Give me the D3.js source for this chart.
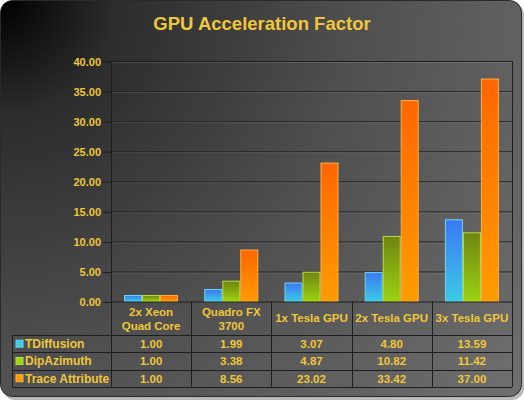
<!DOCTYPE html>
<html>
<head>
<meta charset="utf-8">
<script src="https://cdn.jsdelivr.net/npm/d3@7"></script>
<style>
	body { margin: 0; background: #ffffff; }
	svg text { font-family: "Liberation Sans", Arial, sans-serif; font-weight: bold; }
</style>
</head>
<body>
<svg id="chart" width="524" height="400"></svg>
<script>
// chart values
var categories = [["2x Xeon", "Quad Core"], ["Quadro FX", "3700"], ["1x Tesla GPU"], ["2x Tesla GPU"], ["3x Tesla GPU"]];
var seriesNames = ["TDiffusion", "DipAzimuth", "Trace Attribute"];
var tDiffusion = [1.00, 1.99, 3.07, 4.80, 13.59];
var dipAzimuth = [1.00, 3.38, 4.87, 10.82, 11.42];
var traceAttribute = [1.00, 8.56, 23.02, 33.42, 37.00];
var yTicks = [0, 5, 10, 15, 20, 25, 30, 35, 40];

var series = [tDiffusion, dipAzimuth, traceAttribute];
var gradients = [
	["#3a78f2", "#3ccbe6", "#6ad8f0"],
	["#6f8412", "#9bd411", "#b8e040"],
	["#ff6600", "#ff9c00", "#ffb040"]
];
var yellow = "#f0c63a";

var svg = d3.select("#chart");
var defs = svg.append("defs");

var bg = defs.append("radialGradient")
	.attr("id", "bg")
	.attr("gradientUnits", "userSpaceOnUse")
	.attr("cx", 0).attr("cy", 0).attr("r", 640);
bg.append("stop").attr("offset", 0).attr("stop-color", "#000");
bg.append("stop").attr("offset", 0.18).attr("stop-color", "#2c2c2c");
bg.append("stop").attr("offset", 0.55).attr("stop-color", "#4f4f4f");
bg.append("stop").attr("offset", 1).attr("stop-color", "#6e6e6e");

gradients.forEach(function(g, i) {
	var lg = defs.append("linearGradient")
		.attr("id", "bar" + i)
		.attr("x1", 0).attr("y1", 0).attr("x2", 0).attr("y2", 1);
	lg.append("stop").attr("offset", 0).attr("stop-color", g[0]);
	lg.append("stop").attr("offset", 1).attr("stop-color", g[1]);
});

// frame
svg.append("rect")
	.attr("x", 3).attr("y", 3).attr("width", 521).attr("height", 397)
	.attr("rx", 12).attr("fill", "#b8b8b8");
svg.append("rect")
	.attr("x", 0.5).attr("y", 0.5).attr("width", 521).attr("height", 396)
	.attr("rx", 12).attr("fill", "url(#bg)")
	.attr("stroke", "#2a2a2a");

svg.append("text")
	.attr("x", 262).attr("y", 30)
	.attr("text-anchor", "middle")
	.attr("font-size", 18.5)
	.attr("fill", yellow)
	.text("GPU Acceleration Factor");

var margin = {left: 111, right: 512, top: 61, bottom: 301.5};
var tableLeft = 12, rowH = 17.3, headerBottom = 335;
var tableBottom = headerBottom + rowH * 3;

var x = d3.scaleBand()
	.domain(d3.range(categories.length))
	.range([margin.left, margin.right]);

var y = d3.scaleLinear()
	.domain([0, 40])
	.range([margin.bottom, margin.top]);

var barW = 18;
var x1 = d3.scaleBand()
	.domain(d3.range(series.length))
	.range([0, barW * series.length]);

// gridlines
var grid = svg.append("g");
grid.selectAll("line.hi")
	.data(yTicks.slice(1))
	.enter().append("line")
	.attr("x1", margin.left).attr("x2", margin.right)
	.attr("y1", function(d) { return y(d) + 1.5; })
	.attr("y2", function(d) { return y(d) + 1.5; })
	.attr("stroke", "rgba(255,255,255,0.12)");
grid.selectAll("line.lo")
	.data(yTicks.slice(1))
	.enter().append("line")
	.attr("x1", margin.left).attr("x2", margin.right)
	.attr("y1", function(d) { return y(d) + 0.5; })
	.attr("y2", function(d) { return y(d) + 0.5; })
	.attr("stroke", "#262626");

// axis
var axis = svg.append("g")
	.attr("transform", "translate(" + margin.left + ",0.5)")
	.call(d3.axisLeft(y).tickValues(yTicks).tickFormat(d3.format(".2f")).tickSize(8).tickPadding(2));
axis.select(".domain").remove();
axis.selectAll("line").attr("stroke", "#1e1e1e");
axis.selectAll("text")
	.attr("fill", yellow)
	.attr("font-size", 11)
	.attr("font-family", "Liberation Sans, Arial, sans-serif")
	.attr("font-weight", "bold");

// bars
var groups = svg.append("g").selectAll("g")
	.data(categories)
	.enter().append("g")
	.attr("transform", function(d, i) {
		return "translate(" + (x(i) + (x.bandwidth() - barW * series.length) / 2) + ",0)";
	});
groups.selectAll("rect")
	.data(function(d, i) { return series.map(function(s, k) { return {k: k, v: s[i]}; }); })
	.enter().append("rect")
	.attr("x", function(d) { return x1(d.k) + 0.5; })
	.attr("y", function(d) { return y(d.v); })
	.attr("width", x1.bandwidth() - 1)
	.attr("height", function(d) { return y(0) - y(d.v); })
	.attr("fill", function(d) { return "url(#bar" + d.k + ")"; })
	.attr("stroke", function(d) { return gradients[d.k][2]; })
	.attr("stroke-width", 1);

// table lines
var lines = svg.append("g").attr("stroke", "#1e1e1e").attr("stroke-width", 1);
lines.append("line").attr("x1", margin.left + 0.5).attr("x2", margin.left + 0.5)
	.attr("y1", margin.top).attr("y2", tableBottom);
lines.append("line").attr("x1", margin.right + 0.5).attr("x2", margin.right + 0.5)
	.attr("y1", margin.top).attr("y2", tableBottom);
lines.append("line").attr("x1", margin.left).attr("x2", margin.right)
	.attr("y1", margin.top + 0.5).attr("y2", margin.top + 0.5);
lines.append("line").attr("x1", margin.left).attr("x2", margin.right)
	.attr("y1", y(0) + 0.5).attr("y2", y(0) + 0.5);
lines.selectAll("line.col")
	.data(d3.range(1, categories.length))
	.enter().append("line")
	.attr("x1", function(d) { return Math.round(x(d)) + 0.5; })
	.attr("x2", function(d) { return Math.round(x(d)) + 0.5; })
	.attr("y1", y(0)).attr("y2", tableBottom);
lines.selectAll("line.row")
	.data(d3.range(4))
	.enter().append("line")
	.attr("x1", tableLeft).attr("x2", margin.right)
	.attr("y1", function(d) { return Math.round(headerBottom + d * rowH) + 0.5; })
	.attr("y2", function(d) { return Math.round(headerBottom + d * rowH) + 0.5; });
lines.append("line").attr("x1", tableLeft + 0.5).attr("x2", tableLeft + 0.5)
	.attr("y1", headerBottom).attr("y2", tableBottom);

// category headers
svg.append("g").selectAll("text")
	.data(categories)
	.enter().append("text")
	.attr("text-anchor", "middle")
	.attr("font-size", 11.5)
	.attr("fill", yellow)
	.attr("x", function(d, i) { return x(i) + x.bandwidth() / 2; })
	.attr("y", function(d) { return d.length > 1 ? 316 : 322; })
	.each(function(d) {
		var t = d3.select(this);
		d.forEach(function(line, j) {
			t.append("tspan")
				.attr("x", t.attr("x"))
				.attr("dy", j ? 14 : 0)
				.text(line);
		});
	});

// legend column + values
var rows = svg.append("g").selectAll("g")
	.data(series)
	.enter().append("g")
	.attr("transform", function(d, k) { return "translate(0," + (headerBottom + k * rowH) + ")"; });
rows.append("rect")
	.attr("x", 16).attr("y", rowH / 2 - 3.5)
	.attr("width", 7).attr("height", 7)
	.attr("fill", function(d, k) { return gradients[k][1]; })
	.attr("stroke", function(d, k) { return gradients[k][2]; });
rows.append("text")
	.attr("x", 25).attr("y", rowH / 2 + 4.5)
	.attr("font-size", 12)
	.attr("fill", yellow)
	.text(function(d, k) { return seriesNames[k]; });
rows.selectAll("text.v")
	.data(function(d) { return d; })
	.enter().append("text")
	.attr("text-anchor", "middle")
	.attr("x", function(d, i) { return x(i) + x.bandwidth() / 2; })
	.attr("y", rowH / 2 + 4.5)
	.attr("font-size", 11.5)
	.attr("fill", yellow)
	.text(d3.format(".2f"));
</script>
</body>
</html>
